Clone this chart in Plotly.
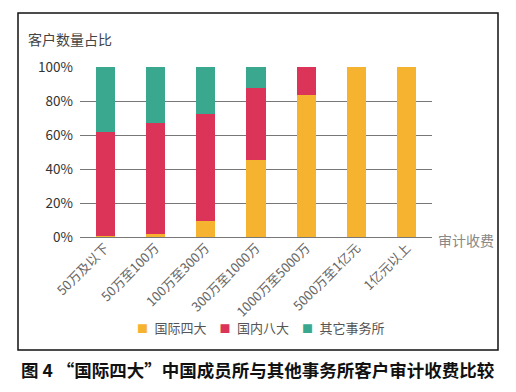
import plotly.graph_objects as go

categories = ["50万及以下", "50万至100万", "100万至300万", "300万至1000万",
              "1000万至5000万", "5000万至1亿元", "1亿元以上"]
big4 = [0.5, 1.5, 9.5, 45.5, 83.5, 100, 100]
domestic8 = [61.5, 65.5, 63.0, 42.0, 16.5, 0, 0]
others = [38.0, 33.0, 27.5, 12.5, 0, 0, 0]
series_names = ["国际四大", "国内八大", "其它事务所"]
colors = ["#F6B330", "#DC3358", "#3AA88F"]
y_ticks = [0, 20, 40, 60, 80, 100]
y_tick_labels = ["0%", "20%", "40%", "60%", "80%", "100%"]

font_family = "Noto Sans CJK SC, Noto Sans, sans-serif"

fig = go.Figure()
for name, vals, c in zip(series_names, [big4, domestic8, others], colors):
    fig.add_trace(go.Bar(x=categories, y=vals, name=name, marker_color=c,
                         marker_line_width=0, showlegend=False))

L, R, T, B = 80, 84, 67, 155
W, H = 516, 392
pw, ph = W - L - R, H - T - B

def px_x(x):
    return (x - L) / pw

def px_y(y):
    return (H - B - y) / ph

gap = "\u3000"
legend_text = gap.join(
    f"<span style='color:{c};font-size:11px'>■</span>\u2002{n}"
    for n, c in zip(series_names, colors)
)

fig.update_layout(
    width=W, height=H,
    margin=dict(l=L, r=R, t=T, b=B, pad=0),
    barmode="stack",
    bargap=0.62,
    plot_bgcolor="white",
    paper_bgcolor="white",
    font=dict(family=font_family, color="#444"),
    showlegend=False,
    xaxis=dict(tickangle=-45, tickfont=dict(size=13, color="#666"),
               showgrid=False, showline=False, ticks="", fixedrange=True),
    yaxis=dict(range=[0, 100], tickvals=y_ticks, ticktext=y_tick_labels,
               tickfont=dict(size=13.5, color="#333"), showgrid=True,
               gridcolor="#777", gridwidth=1, zeroline=True, zerolinecolor="#777",
               zerolinewidth=1, ticks="", ticklabelstandoff=6, fixedrange=True),
    shapes=[dict(type="rect", xref="paper", yref="paper",
                 x0=px_x(18), x1=px_x(498), y0=px_y(350), y1=px_y(13),
                 line=dict(color="#111", width=1.5), fillcolor="rgba(0,0,0,0)",
                 layer="below")],
    annotations=[
        dict(text="客户数量占比", xref="paper", yref="paper", x=px_x(26), y=px_y(39),
             xanchor="left", yanchor="middle", showarrow=False,
             font=dict(size=14, color="#444")),
        dict(text="审计收费", xref="paper", yref="paper", x=px_x(436), y=px_y(240),
             xanchor="left", yanchor="middle", showarrow=False,
             font=dict(size=14, color="#888")),
        dict(text=legend_text, xref="paper", yref="paper", x=px_x(261), y=px_y(327),
             xanchor="center", yanchor="middle", showarrow=False,
             font=dict(size=13, color="#555")),
        dict(text="<b>图 4 “国际四大”中国成员所与其他事务所客户审计收费比较</b>",
             xref="paper", yref="paper", x=px_x(258), y=px_y(369),
             xanchor="center", yanchor="middle", showarrow=False,
             font=dict(size=17.5, color="#111")),
    ],
)

fig.write_html("out.html", config={"displayModeBar": False},
               post_script="document.body.style.margin='0';document.body.style.overflow='hidden';")
